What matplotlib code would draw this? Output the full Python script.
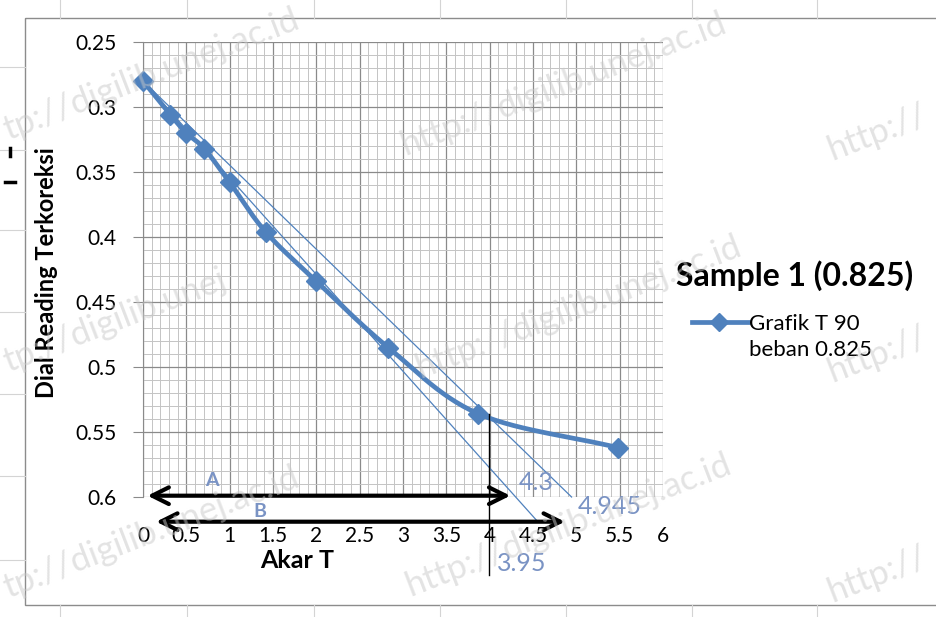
import numpy as np
import matplotlib
matplotlib.use("Agg")
import matplotlib.pyplot as plt
from matplotlib.ticker import MultipleLocator, FixedLocator
from matplotlib.patches import Rectangle
from matplotlib.lines import Line2D

plt.rcParams['font.family'] = ['Lato', 'DejaVu Sans']

# ---- data ----
akar_t = [0.0, 0.316, 0.5, 0.707, 1.0, 1.414, 2.0, 2.83, 3.87, 5.48]
dial = [0.280, 0.306, 0.320, 0.332, 0.358, 0.396, 0.434, 0.485, 0.536, 0.562]
x_ticks = [0, 0.5, 1, 1.5, 2, 2.5, 3, 3.5, 4, 4.5, 5, 5.5, 6]
y_ticks = [0.25, 0.3, 0.35, 0.4, 0.45, 0.5, 0.55, 0.6]
d0 = 0.28            # corrected zero reading
x_line_a = 4.3       # intercept of line A at 0.6
x_line_b = 4.945     # intercept of line B at 0.6 (1.15 x A)
t90_root = 3.95
series_name = "Grafik T 90\nbeban 0.825"
title = "Sample 1 (0.825)"

BLUE = '#4F81BD'
LBLUE = '#7A93C4'

W, H = 936, 617
fig = plt.figure(figsize=(W / 100, H / 100), dpi=100)
fig.patch.set_facecolor('white')

# spreadsheet background lines + chart frame (figure pixel coords)
bg = fig.add_axes([0, 0, 1, 1], zorder=-5)
bg.set_xlim(0, W); bg.set_ylim(H, 0); bg.axis('off')
for xv in [60, 187, 314, 440, 566, 692, 817]:
    bg.plot([xv, xv], [0, 18], color='#d4d4d4', lw=0.8)
    bg.plot([xv, xv], [605, H], color='#d4d4d4', lw=0.8)
for yv in [67, 150, 230, 312, 394, 476, 560]:
    bg.plot([0, 25], [yv, yv], color='#d4d4d4', lw=0.8)
bg.add_patch(Rectangle((25, 18), 915, 587, fill=False, ec='#8c8c8c', lw=1.0))
bg.plot([10, 10], [148, 156], color='black', lw=2.5)
bg.plot([5, 15], [182, 182], color='black', lw=2.5)

# ---- main axes ----
x0, x6, y25, y60 = 143, 663, 42, 497
ax = fig.add_axes([x0 / W, 1 - y60 / H, (x6 - x0) / W, (y60 - y25) / H])
ax.set_xlim(0, 6)
ax.set_ylim(0.6, 0.25)
ax.xaxis.set_major_locator(FixedLocator(x_ticks))
ax.yaxis.set_major_locator(FixedLocator(y_ticks))
ax.xaxis.set_minor_locator(MultipleLocator(0.1))
ax.yaxis.set_minor_locator(MultipleLocator(0.01))
ax.set_xticklabels([f"{v:g}" for v in x_ticks])
ax.set_yticklabels([f"{v:g}" for v in y_ticks])
ax.grid(which='minor', color='#c4c4c4', lw=0.7)
ax.grid(which='major', color='#8a8a8a', lw=0.9)
ax.set_axisbelow(True)
for s in ['top', 'right', 'bottom']:
    ax.spines[s].set_visible(False)
ax.spines['left'].set_color('#8a8a8a')
ax.tick_params(axis='x', which='both', length=0, pad=21, labelsize=15)
ax.tick_params(axis='y', which='major', length=7, color='#8a8a8a', pad=12, labelsize=15)
ax.tick_params(axis='y', which='minor', length=0)

# smooth curve (Catmull-Rom through the data points)
def catmull_rom(xs, ys, n=30):
    P = np.column_stack([xs, ys])
    P = np.vstack([2 * P[0] - P[1], P, 2 * P[-1] - P[-2]])
    out = []
    for i in range(1, len(P) - 2):
        p0, p1, p2, p3 = P[i - 1], P[i], P[i + 1], P[i + 2]
        t = np.linspace(0, 1, n)[:, None]
        seg = 0.5 * ((2 * p1) + (-p0 + p2) * t + (2 * p0 - 5 * p1 + 4 * p2 - p3) * t ** 2
                     + (-p0 + 3 * p1 - 3 * p2 + p3) * t ** 3)
        out.append(seg)
    S = np.vstack(out)
    return S[:, 0], S[:, 1]

sx, sy = catmull_rom(akar_t, dial)
ax.plot(sx, sy, color=BLUE, lw=3.4, solid_capstyle='round', zorder=4)
ax.plot(akar_t, dial, ls='none', marker='D', ms=10, color=BLUE, zorder=5, clip_on=False)

# construction lines
slope_a = (0.6 - d0) / x_line_a
slope_b = (0.6 - d0) / x_line_b
xa = np.array([0, 4.55])
ax.plot(xa, d0 + slope_a * xa, color=BLUE, lw=0.9, clip_on=False, zorder=3)
xb = np.array([0, x_line_b])
ax.plot(xb, d0 + slope_b * xb, color=BLUE, lw=0.9, clip_on=False, zorder=3)
ax.plot([3.99, 3.99], [0.536, 0.66], color='black', lw=1.0, clip_on=False, zorder=6)

# arrows
ax.annotate('', xy=(4.27, 0.599), xytext=(0.02, 0.599),
            arrowprops=dict(arrowstyle='<->', lw=3, color='black', mutation_scale=30),
            annotation_clip=False, zorder=7)
ax.annotate('', xy=(4.9, 0.619), xytext=(0.12, 0.619),
            arrowprops=dict(arrowstyle='<->', lw=3, color='black', mutation_scale=30),
            annotation_clip=False, zorder=7)
ax.text(0.8, 0.587, 'A', color=LBLUE, fontsize=14, fontweight='bold', ha='center', va='center')
ax.text(1.35, 0.611, 'B', color=LBLUE, fontsize=14, fontweight='bold', ha='center', va='center',
        clip_on=False)
ax.text(4.54, 0.589, f"{x_line_a:g}", color=LBLUE, fontsize=18, ha='center', va='center', clip_on=False)
ax.text(5.38, 0.607, f"{x_line_b:g}", color=LBLUE, fontsize=18, ha='center', va='center', clip_on=False)
ax.text(4.37, 0.651, f"{t90_root:g}", color=LBLUE, fontsize=18, ha='center', va='center', clip_on=False)

# axis titles
fig.text(297 / W, 1 - 560 / H, 'Akar T', fontsize=18, fontweight='bold', ha='center', va='center')
fig.text(47 / W, 1 - 273 / H, 'Dial Reading Terkoreksi', fontsize=17, fontweight='bold',
         rotation=90, ha='center', va='center')

# legend
fig.text(795 / W, 1 - 276 / H, title, fontsize=23, fontweight='bold', ha='center', va='center')
bg.add_line(Line2D([692, 748], [322, 322], color=BLUE, lw=3.4))
bg.plot([719], [322], marker='D', ms=9, color=BLUE)
fig.text(749 / W, 1 - 337 / H, series_name, fontsize=16, ha='left', va='center', linespacing=1.4)

# watermarks on top of everything (partial where the reference shows them cut at the edge)
wm = 'http://digilib.unej.ac.id'
marks = [('tp://digilib.unej.ac.id', 8, 140), (wm, 405, 155), ('http://', 832, 160),
         ('tp://digilib.unej', 8, 372), (wm, 420, 378), ('http://', 832, 382),
         ('tp://digilib.unej.ac.id', 8, 598), (wm, 410, 596), ('http://', 832, 602)]
for s, sxp, syp in marks:
    fig.text(sxp / W, 1 - syp / H, s, fontsize=25, color='#c8c8c8', alpha=0.5, rotation=21,
             rotation_mode='anchor', ha='left', va='baseline', zorder=20)

fig.savefig('out.png', dpi=100)
